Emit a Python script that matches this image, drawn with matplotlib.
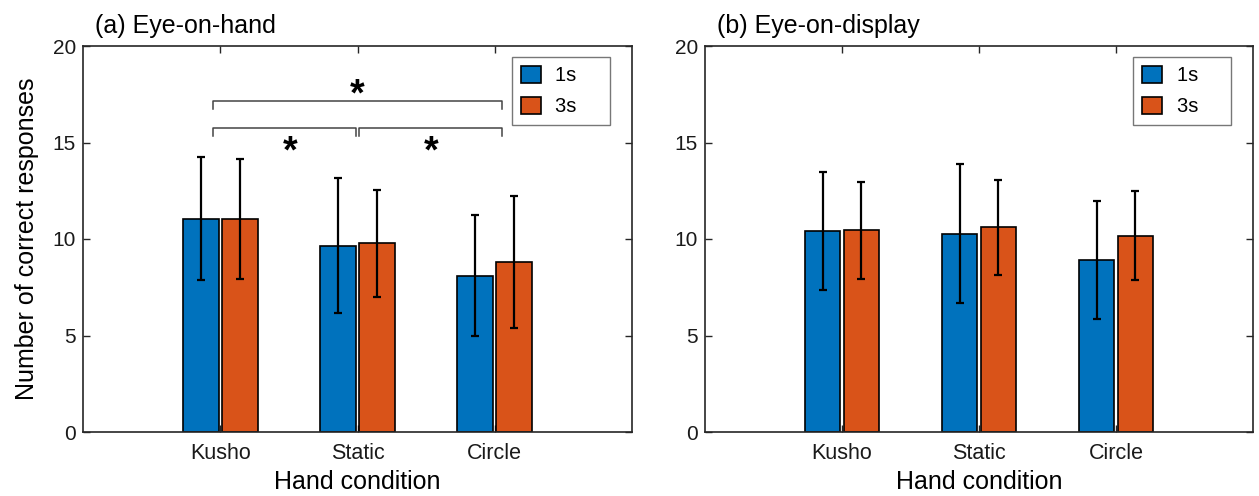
import matplotlib
matplotlib.use("Agg")
import matplotlib.pyplot as plt
import numpy as np

categories = ["Kusho", "Static", "Circle"]
series = ["1s", "3s"]
a_1s = [11.05, 9.65, 8.10]
a_3s = [11.05, 9.78, 8.82]
a_1s_err = [3.20, 3.50, 3.15]
a_3s_err = [3.12, 2.77, 3.42]
b_1s = [10.40, 10.28, 8.90]
b_3s = [10.45, 10.62, 10.17]
b_1s_err = [3.05, 3.62, 3.05]
b_3s_err = [2.50, 2.46, 2.32]
titles = ["(a) Eye-on-hand", "(b) Eye-on-display"]
yticks = [0, 5, 10, 15, 20]

BLUE = "#0072BD"
ORANGE = "#D95319"
plt.rcParams['font.family'] = ['Liberation Sans', 'DejaVu Sans']

fig = plt.figure(figsize=(12.59, 4.96), dpi=100)
axA = fig.add_axes([83/1259, 1-432/496, (632-83)/1259, (432-46)/496])
axB = fig.add_axes([705/1259, 1-432/496, (1253-705)/1259, (432-46)/496])

x = np.arange(1, len(categories)+1)
w = 0.26
off = 0.142

for ax, v1, v3, e1, e3, title in [(axA, a_1s, a_3s, a_1s_err, a_3s_err, titles[0]),
                                   (axB, b_1s, b_3s, b_1s_err, b_3s_err, titles[1])]:
    ax.bar(x-off, v1, w, color=BLUE, edgecolor='black', linewidth=1.2, label=series[0] + "\u2003\u2009", zorder=2)
    ax.bar(x+off, v3, w, color=ORANGE, edgecolor='black', linewidth=1.2, label=series[1] + "\u2003\u2009", zorder=2)
    ax.errorbar(x-off, v1, yerr=e1, fmt='none', ecolor='black', elinewidth=1.6, capsize=3, capthick=1.6, zorder=3)
    ax.errorbar(x+off, v3, yerr=e3, fmt='none', ecolor='black', elinewidth=1.6, capsize=3, capthick=1.6, zorder=3)
    ax.set_xlim(0, 4)
    ax.set_ylim(0, 20)
    ax.set_xticks(x)
    ax.set_xticklabels(categories, fontsize=15.5)
    ax.set_yticks(yticks)
    ax.set_yticklabels([str(t) for t in yticks], fontsize=15)
    ax.tick_params(direction='in', top=True, right=True, length=5, width=1, pad=5,
                   color='#262626', labelcolor='#1a1a1a')
    ax.tick_params(axis='x', pad=8)
    for s in ax.spines.values():
        s.set_linewidth(1.2)
        s.set_color('#262626')
    ax.set_xlabel("Hand condition", fontsize=18, labelpad=4)
    ax.text(0.022, 1.02, title, transform=ax.transAxes, fontsize=18, ha='left', va='bottom')
    leg = ax.legend(loc='upper right', bbox_to_anchor=(0.96, 0.972), fontsize=14.5,
                    frameon=True, fancybox=False, edgecolor='#555555', handlelength=1.0,
                    handleheight=0.95, borderpad=0.45, labelspacing=0.55, handletextpad=0.7,
                    borderaxespad=0)
    leg.get_frame().set_linewidth(1.0)

axA.set_ylabel("Number of correct responses", fontsize=18, labelpad=10)

# significance brackets (left panel)
bc = '#444444'
xl, xm, xr = 0.95, 2.0, 3.05
axA.plot([xl, xl, xr, xr], [16.73, 17.14, 17.14, 16.73], color=bc, lw=1.1)
axA.plot([xl, xl, xm-0.01, xm-0.01], [15.32, 15.74, 15.74, 15.32], color=bc, lw=1.1)
axA.plot([xm+0.01, xm+0.01, xr, xr], [15.32, 15.74, 15.74, 15.32], color=bc, lw=1.1)
axA.text(2.0, 17.65, "*", fontsize=27, fontweight='bold', ha='center', va='center_baseline')
axA.text(1.51, 14.7, "*", fontsize=27, fontweight='bold', ha='center', va='center_baseline')
axA.text(2.54, 14.7, "*", fontsize=27, fontweight='bold', ha='center', va='center_baseline')

fig.savefig("out.png", dpi=100)
